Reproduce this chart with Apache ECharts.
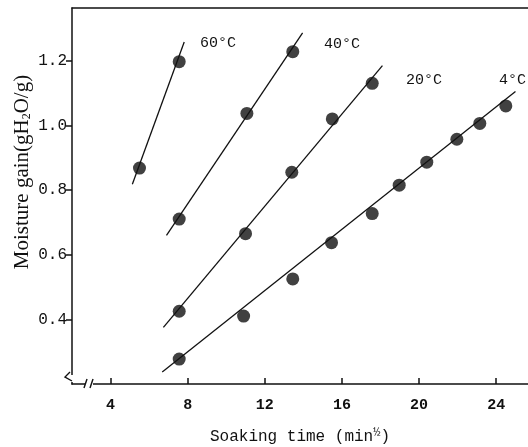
<!DOCTYPE html>
<html>
<head>
<meta charset="utf-8">
<script src="https://cdn.jsdelivr.net/npm/echarts@6/dist/echarts.min.js"></script>
<style>
  html, body { margin: 0; padding: 0; background: #fff; }
  #main { width: 528px; height: 447px; }
</style>
</head>
<body>
<div id="main"></div>
<script>
// measured points, x = sqrt(min), y = moisture gain
const x60 = [5.5, 7.56]
const y60 = [0.868, 1.197]
const x40 = [7.56, 11.07, 13.45]
const y40 = [0.71, 1.037, 1.228]
const x20 = [7.56, 11.0, 13.4, 15.5, 17.57]
const y20 = [0.425, 0.665, 0.855, 1.02, 1.13]
const x4 = [7.56, 10.9, 13.45, 15.46, 17.57, 18.97, 20.4, 21.96, 23.15, 24.5]
const y4 = [0.277, 0.41, 0.525, 0.637, 0.727, 0.815, 0.886, 0.957, 1.006, 1.06]

// fitted straight lines (two ends each)
const fit60 = [[5.13, 0.818], [7.82, 1.258]]
const fit40 = [[6.9, 0.66], [13.96, 1.286]]
const fit20 = [[6.74, 0.375], [18.1, 1.185]]
const fit4 = [[6.68, 0.237], [25.0, 1.105]]

const xTicks = [4, 8, 12, 16, 20, 24]
const yTicks = [0.4, 0.6, 0.8, 1.0, 1.2]
const tempLabels = ['60°C', '40°C', '20°C', '4°C']

const ink = '#111'
const mono = '"Liberation Mono", "DejaVu Sans Mono", monospace'

function zip(xs, ys) {
    return xs.map((x, i) => [x, ys[i]])
}

let pointSeries = [[x60, y60], [x40, y40], [x20, y20], [x4, y4]].map(function (p) {
    return {
        type: 'scatter',
        data: zip(p[0], p[1]),
        symbol: 'circle',
        symbolSize: 13,
        itemStyle: { color: ink },
        z: 3
    }
})

let fitSeries = [fit60, fit40, fit20, fit4].map(function (d) {
    return {
        type: 'line',
        data: d,
        symbol: 'none',
        lineStyle: { color: ink, width: 1.3 },
        z: 2
    }
})

var myChart = echarts.init(document.getElementById('main'))

// label spots for the temperatures (pixels)
let labelSpots = [[200, 36], [324, 37], [406, 73], [499, 73]]

var option = {
    backgroundColor: '#fff',
    animation: false,
    grid: { left: 72, top: 8, right: 0, bottom: 63, outerBoundsMode: 'none' },
    xAxis: [
        {
            type: 'value',
            min: 2,
            max: 25.65,
            splitLine: { show: false },
            axisLine: { lineStyle: { color: ink, width: 1.5 } },
            axisTick: { inside: true, length: 6, lineStyle: { color: ink, width: 1.5 }, customValues: xTicks },
            axisLabel: {
                customValues: xTicks,
                color: ink,
                fontFamily: mono,
                fontSize: 15,
                fontWeight: 'bold',
                margin: 14
            },
            name: 'Soaking time (min{sup|½})',
            nameLocation: 'middle',
            nameGap: 43,
            nameMoveOverlap: false,
            nameTextStyle: {
                color: ink,
                fontFamily: mono,
                fontSize: 16,
                rich: {
                    sup: { fontSize: 12, fontFamily: mono, color: ink, verticalAlign: 'top', padding: [0, 0, 8, 0] }
                }
            }
        },
        {
            type: 'value',
            position: 'top',
            min: 2,
            max: 25.65,
            splitLine: { show: false },
            axisLine: { lineStyle: { color: ink, width: 1.5 } },
            axisTick: { show: false },
            axisLabel: { show: false }
        }
    ],
    yAxis: {
        type: 'value',
        min: 0.2,
        max: 1.363,
        splitLine: { show: false },
        axisLine: { lineStyle: { color: ink, width: 1.5 } },
        axisTick: { length: 6, lineStyle: { color: ink, width: 1.5 }, customValues: yTicks },
        axisLabel: {
            customValues: yTicks,
            color: ink,
            fontFamily: mono,
            fontSize: 16,
            margin: 5,
            formatter: function (v) {
                return v.toFixed(1)
            }
        },
        name: 'Moisture gain(gH{sub|2}O/g)',
        nameLocation: 'middle',
        nameGap: 39,
        nameMoveOverlap: false,
        nameTextStyle: {
            color: ink,
            fontFamily: '"Liberation Serif", "DejaVu Serif", serif',
            fontSize: 21,
            padding: [0, 0, 0, 48],
            rich: {
                sub: { fontSize: 12, fontFamily: '"Liberation Serif", serif', color: ink, verticalAlign: 'bottom', padding: [7, 0, 0, 0] }
            }
        }
    },
    graphic: [
        // temperature labels
        ...tempLabels.map(function (t, i) {
            return {
                type: 'text',
                left: labelSpots[i][0],
                top: labelSpots[i][1],
                style: { text: t, fill: ink, font: '15px ' + mono }
            }
        }),
        // axis break marks
        { type: 'rect', shape: { x: 63, y: 374, width: 8, height: 8 }, style: { fill: '#fff' }, z: 100 },
        { type: 'rect', shape: { x: 70, y: 375, width: 4, height: 7 }, style: { fill: '#fff' }, z: 100 },
        { type: 'polyline', shape: { points: [[70, 372], [65, 377], [72, 381]] }, style: { stroke: ink, lineWidth: 1.4, fill: null }, z: 101 },
        { type: 'rect', shape: { x: 85, y: 380, width: 8, height: 8 }, style: { fill: '#fff' }, z: 100 },
        { type: 'line', shape: { x1: 84, y1: 388, x2: 87, y2: 379 }, style: { stroke: ink, lineWidth: 1.4 }, z: 101 },
        { type: 'line', shape: { x1: 90, y1: 388, x2: 93, y2: 379 }, style: { stroke: ink, lineWidth: 1.4 }, z: 101 }
    ],
    series: fitSeries.concat(pointSeries)
}

myChart.setOption(option)
</script>
</body>
</html>
